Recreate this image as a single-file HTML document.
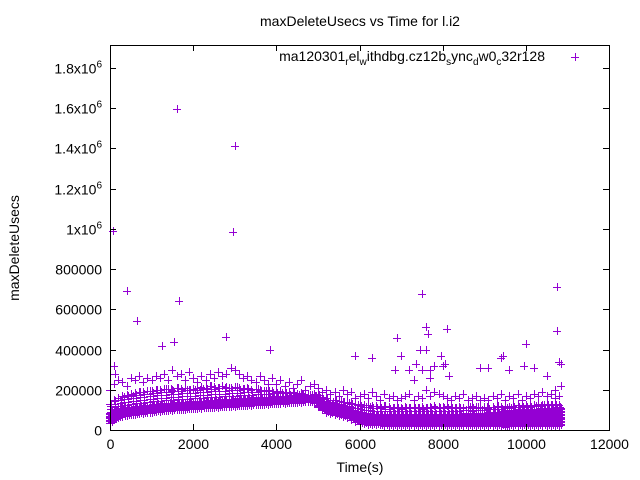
<!DOCTYPE html>
<html><head><meta charset="utf-8"><style>
body{margin:0;background:#fff}
svg{display:block;font-family:"Liberation Sans",sans-serif}
</style></head><body>
<svg id="chart" width="640" height="480" viewBox="0 0 640 480">
<rect x="0" y="0" width="640" height="480" fill="#fff"/>
<text x="360" y="26" font-size="14" text-anchor="middle">maxDeleteUsecs vs Time for l.i2</text>
<g id="marks"></g>
<rect x="110.5" y="45.5" width="499" height="385" fill="none" stroke="#000" stroke-width="1" shape-rendering="crispEdges"/>
<g id="axes"></g>
<text transform="translate(19,248) rotate(-90)" font-size="14" text-anchor="middle">maxDeleteUsecs</text>
<text x="360" y="472" font-size="14" text-anchor="middle">Time(s)</text>
<g>
<text x="545" y="61" font-size="14" text-anchor="end">ma120301<tspan font-size="10" dy="4">r</tspan><tspan dy="-4">el</tspan><tspan font-size="10" dy="4">w</tspan><tspan dy="-4">ithdbg.cz12b</tspan><tspan font-size="10" dy="4">s</tspan><tspan dy="-4">ync</tspan><tspan font-size="10" dy="4">d</tspan><tspan dy="-4">w0</tspan><tspan font-size="10" dy="4">c</tspan><tspan dy="-4">32r128</tspan></text>
<path d="M571 57.5h8M575.5 53v8" stroke="#9400d3" stroke-width="1" shape-rendering="crispEdges"/>
</g>
</svg>
<script>
const lo=[45,60,70,75,80,82,85,88,90,92,95,97,98,100,102,103,105,106,108,110,110,112,113,115,116,117,118,120,121,122,123,125,126,127,128,130,131,132,133,135,136,137,138,140,141,142,143,145,146,140,120,105,95,90,85,80,75,70,60,50,40,38,35,35,33,32,30,30,30,30,30,30,28,30,30,28,30,30,28,30,30,28,30,30,28,30,30,28,30,30,28,30,30,28,30,25,30,28,30,30,28,30,30,28,30,30,28,30,30];
const lo2=[90,100,105,110,112,115,118,120,122,125,128,130,132,133,135,136,138,140,141,142,143,145,146,148,150,150,152,153,155,156,157,158,160,160,162,163,164,165,166,168,168,170,170,172,172,173,174,175,175,170,160,140,130,125,120,115,110,105,100,95,90,85,85,80,80,80,78,78,80,80,78,80,80,82,80,78,80,82,80,80,80,82,80,80,82,85,85,82,85,85,85,88,90,90,92,95,95,98,100,100,100,102,105,105,108,110,110,112,112];
const mid=[130,150,160,170,175,180,185,190,190,195,195,200,200,205,205,200,210,205,210,200,205,210,215,210,220,215,210,220,215,210,215,210,205,210,200,205,200,195,200,195,190,195,190,185,190,180,185,180,175,180,175,165,160,150,150,145,140,140,135,130,130,125,125,120,120,115,120,115,110,115,110,115,110,115,110,115,110,115,120,115,115,120,115,110,115,110,115,120,115,110,115,110,115,120,115,120,115,120,125,120,125,120,125,130,125,130,125,130,125];
const hi=[200,230,250,240,220,260,250,270,240,260,250,270,260,280,250,300,270,280,250,290,260,240,270,250,280,260,290,270,280,310,300,280,260,270,250,240,270,250,230,260,230,250,220,240,210,230,250,200,220,230,210,190,200,180,190,170,200,180,190,160,170,180,160,190,170,150,180,160,170,150,160,170,180,150,170,160,200,170,190,180,170,160,150,170,160,180,150,160,170,150,160,150,170,160,180,150,170,160,180,150,170,160,180,170,190,170,180,160,170];
const outT=[70,1600,3000,2950,400,1650,650,7500,10750,2800,3850,1550,1250,8100,7600,7650,6900,7450,7600,7000,10000,10750,10850,10800,9950,5900,6300,100,120,7200,7800,8000,7700,7300,8150,9400,9450,8900,9100,9600,10500,10200,10700,10850,6850,7950,8050,7350,7500,7700];
const outV=[990,1595,1410,985,690,640,540,675,710,460,400,440,420,500,510,475,455,400,400,370,430,490,330,340,320,370,360,320,280,300,320,320,260,250,270,360,370,310,310,300,270,310,200,220,300,370,330,330,300,300];
const timeStep=100;
const xTicks=[0,2000,4000,6000,8000,10000,12000];
const yTicks=[0,200000,400000,600000,800000,1000000,1200000,1400000,1600000,1800000];
const yLabels=["0","200000","400000","600000","800000","1x10^6","1.2x10^6","1.4x10^6","1.6x10^6","1.8x10^6"];
const X0=110,X1=609,Y0=430,YTOP=68;
function sx(t){return X0+(t/12000)*(X1-X0);}
function sy(v){return Y0-(v/1800000)*(Y0-YTOP);}
const NS="http://www.w3.org/2000/svg";
const marks=document.getElementById('marks');
let d="";
function plus(t,v){const x=Math.round(sx(t))+0.5,y=Math.round(sy(v))+0.5;d+="M"+(x-4.5)+" "+y+"h8M"+x+" "+(y-4.5)+"v8";}
lo.forEach((v,i)=>{const top=lo2[i];for(let k=v-8;k<top;k+=7){plus(i*timeStep,k*1000);plus(i*timeStep+50,(k+3)*1000);}});
lo2.forEach((v,i)=>{const top=mid[i];for(let k=v;k<=top;k+=14)plus(i*timeStep+25+(k%2)*30,k*1000);});
[mid,hi].forEach(arr=>arr.forEach((v,i)=>plus(i*timeStep,v*1000)));
outT.forEach((t,i)=>plus(t,outV[i]*1000));
const p=document.createElementNS(NS,'path');
p.setAttribute('d',d);p.setAttribute('stroke','#9400d3');p.setAttribute('stroke-width','1');p.setAttribute('fill','none');p.setAttribute('shape-rendering','crispEdges');


marks.appendChild(p);
const axes=document.getElementById('axes');
let td="";
xTicks.forEach(t=>{const x=Math.round(sx(t))+0.5;td+="M"+x+" "+Y0+"v-6M"+x+" 45v6";
 const tx=document.createElementNS(NS,'text');tx.setAttribute('x',x);tx.setAttribute('y',449);tx.setAttribute('font-size','14');tx.setAttribute('text-anchor','middle');tx.textContent=t;
 
 
 axes.appendChild(tx);});
yTicks.forEach((v,i)=>{const y=Math.round(sy(v))+0.5;td+="M110 "+y+"h6M609 "+y+"h-6";
 const tx=document.createElementNS(NS,'text');tx.setAttribute('x',102);tx.setAttribute('y',y+5);tx.setAttribute('font-size','14');tx.setAttribute('text-anchor','end');
 const lab=yLabels[i];
 if(lab.indexOf('^')>=0){const parts=lab.split('^');tx.textContent=parts[0];const s=document.createElementNS(NS,'tspan');s.setAttribute('font-size','10');s.setAttribute('dy','-6');s.textContent=parts[1];tx.appendChild(s);}
 else tx.textContent=lab;
 
 
 axes.appendChild(tx);});
const tp=document.createElementNS(NS,'path');tp.setAttribute('d',td);tp.setAttribute('stroke','#000');tp.setAttribute('fill','none');tp.setAttribute('shape-rendering','crispEdges');


axes.appendChild(tp);
</script>
</body></html>
